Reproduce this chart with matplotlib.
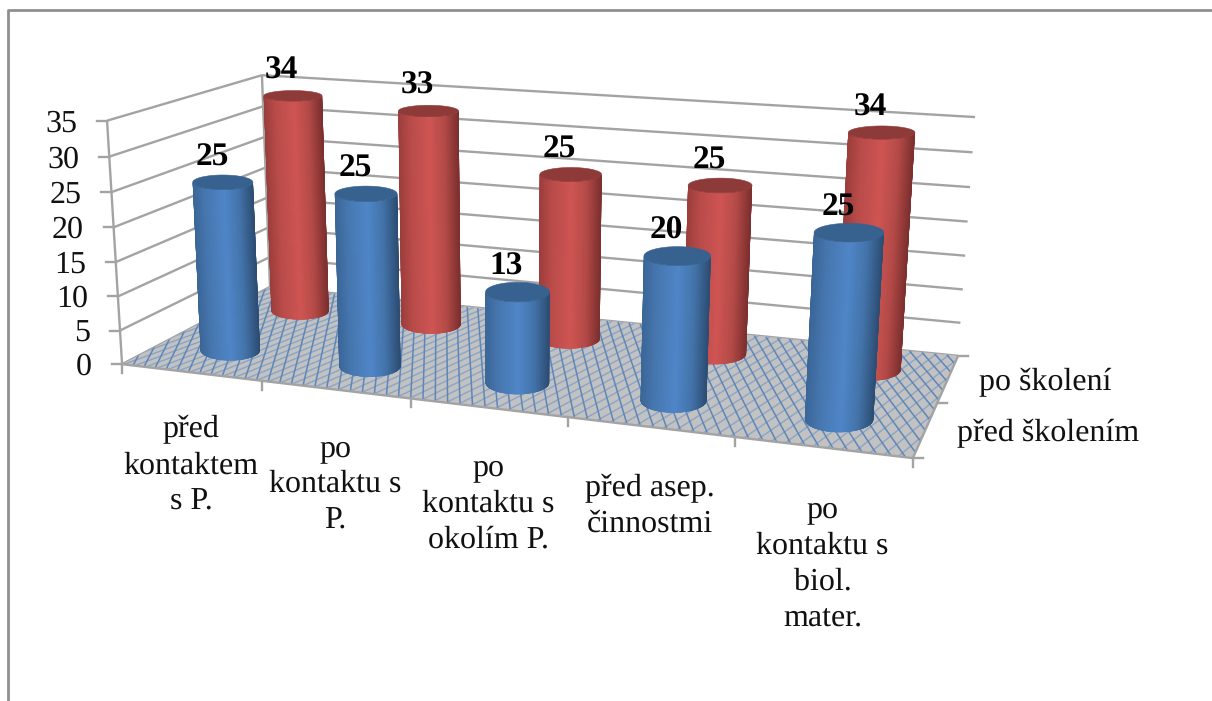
import numpy as np
import matplotlib
matplotlib.use("Agg")
import matplotlib.pyplot as plt
from matplotlib.colors import to_rgb
from matplotlib.collections import LineCollection, PolyCollection
from matplotlib.patches import Polygon

# Data
categories = ["před\nkontaktem\ns P.", "po\nkontaktu s\nP.", "po\nkontaktu s\nokolím P.",
              "před asep.\nčinnostmi", "po\nkontaktu s\nbiol.\nmater."]
series_names = ["před školením", "po školení"]
before = [25, 25, 13, 20, 25]
after = [34, 33, 25, 25, 34]
value_ticks = [0, 5, 10, 15, 20, 25, 30, 35]

plt.rcParams["font.family"] = ["Liberation Serif", "DejaVu Serif"]
plt.rcParams["text.hinting"] = "no_hinting"
GRID = "#a3a3a3"
FS = 23

# Camera: chart corners (category, series, value) -> pixel, solved with DLT
corners = [((0, 0, 0), (122, 364)), ((5, 0, 0), (913, 458)), ((0, 2, 0), (270, 287)),
           ((5, 2, 0), (958, 356)), ((0, 0, 35), (107, 121)), ((0, 2, 35), (262, 75)),
           ((5, 2, 35), (975, 117))]
rows = []
for (u, v, z), (px, py) in corners:
    rows.append([u, v, z, 1, 0, 0, 0, 0, -px * u, -px * v, -px * z, -px])
    rows.append([0, 0, 0, 0, u, v, z, 1, -py * u, -py * v, -py * z, -py])
CAM = np.linalg.svd(np.array(rows, float))[2][-1].reshape(3, 4)


def project(u, v, z):
    """Project chart coordinates to pixels."""
    u, v, z = np.broadcast_arrays(np.asarray(u, float), np.asarray(v, float), np.asarray(z, float))
    p = CAM @ np.stack([u.ravel(), v.ravel(), z.ravel(), np.ones(u.size)])
    return (p[:2] / p[2]).T


def seg(ax, a, b, lw=1.7, color=GRID, zorder=2):
    pts = project(*np.array([a, b]).T)
    ax.plot(pts[:, 0], pts[:, 1], color=color, lw=lw, zorder=zorder, solid_capstyle="butt")


def ring(cu, cv, z, theta):
    """Level ellipse of a cylinder at height z, sized from the local scale."""
    left, right = project([cu - 0.5, cu + 0.5], [cv, cv], [z, z])
    front, back = project([cu, cu], [cv - 0.5, cv + 0.5], [z, z])
    mid = project(cu, cv, z)[0]
    a = 0.13 * (right[0] - left[0]) + 12
    b = 0.24 * (front[1] - back[1])
    return np.column_stack([mid[0] + a * np.cos(theta), mid[1] + b * np.sin(theta)])


def cylinder(ax, i, s, value, stops, top_color, zorder):
    cu, cv = i + 0.5, s + 0.5
    # front half only, left to right
    theta = np.linspace(np.pi, 0, 91)
    low = ring(cu, cv, 0, theta)
    up = ring(cu, cv, value, theta)
    mids = theta[:-1] + np.diff(theta) / 2
    polys, cols = [], []
    rgb = np.array([to_rgb(c) for c in stops])
    for k in range(len(mids)):
        t = np.cos(mids[k])
        polys.append([low[k], low[k + 1], up[k + 1], up[k]])
        cols.append([np.interp(t, [-1, -0.6, 0.05, 0.55, 1], rgb[:, c]) for c in range(3)])
    body = Polygon(np.vstack([low, up[::-1]]), closed=True, fc=cols[45], ec="none", zorder=zorder)
    ax.add_patch(body)
    strips = PolyCollection(polys, facecolors=cols, edgecolors=cols, linewidths=0.8, zorder=zorder)
    ax.add_collection(strips)
    strips.set_clip_path(body)
    top = ring(cu, cv, value, np.linspace(0, 2 * np.pi, 121))
    ax.add_patch(Polygon(top, closed=True, fc=top_color, ec=top_color, lw=0.4, zorder=zorder + 0.1))
    mid = project(cu, cv, value)[0]
    ax.text(mid[0] - 11, mid[1] - 25, str(value), ha="center", va="center", fontsize=FS + 1,
            fontweight="bold", color="black", zorder=20)


fig = plt.figure(figsize=(12.12, 7.01), dpi=100)
ax = fig.add_axes([0, 0, 1, 1])
ax.set_xlim(0, 1212)
ax.set_ylim(701, 0)
ax.axis("off")

# outer frame
ax.plot([8, 8, 1212], [701, 10, 10], color="#8f8f8f", lw=2, zorder=1)

# walls
for val in value_ticks:
    seg(ax, (0, 0, val), (0, 2, val))
    seg(ax, (0, 2, val), (5, 2, val))
    x, y = project(0, 0, val)[0]
    ax.plot([x - 10, x], [y, y], color=GRID, lw=1.7, zorder=2)
    ax.text(x - 30, y + 3, str(val), ha="right", va="center", fontsize=FS, color="#111111", zorder=20)
seg(ax, (0, 0, 0), (0, 0, 35))
seg(ax, (0, 2, 0), (0, 2, 35))

# floor with woven texture
floor_xy = project([0, 5, 5, 0], [0, 0, 2, 2], [0, 0, 0, 0])
floor = Polygon(floor_xy, closed=True, fc="#c2c2c2", ec="none", zorder=3)
ax.add_patch(floor)
vv = np.array([0.0, 2.0])
lines_a = [project(c - vv / 2.4, vv, 0 * vv) for c in np.arange(0, 5.9, 0.08)]
lines_b = [project((vv - c) / 4.8, vv, 0 * vv) for c in np.arange(-24, 2.2, 0.38)]
for lines, col, lw in [(lines_b, "#8aa5c6", 1.0), (lines_a, "#5f86b8", 1.1)]:
    lc = LineCollection(lines, colors=col, linewidths=lw, zorder=3.1)
    ax.add_collection(lc)
    lc.set_clip_path(floor)

# floor edges and ticks
seg(ax, (0, 0, 0), (5, 0, 0), zorder=4)
seg(ax, (5, 0, 0), (5, 2, 0), zorder=4)
for i in range(6):
    x, y = project(i, 0, 0)[0]
    ax.plot([x, x], [y, y + 9], color=GRID, lw=1.7, zorder=4)
for s in range(3):
    x, y = project(5, s, 0)[0]
    ax.plot([x, x + 10], [y, y], color=GRID, lw=1.7, zorder=4)

# cylinders, back row first
blue = ["#3a6596", "#4676ae", "#4f86c8", "#4373a9", "#2d4e74"]
red = ["#9a3d3b", "#b84b49", "#cf5553", "#b34a47", "#7d302f"]
for i, val in enumerate(after):
    cylinder(ax, i, 1, val, red, "#8e3a38", 5 + i * 0.01)
for i, val in enumerate(before):
    cylinder(ax, i, 0, val, blue, "#376290", 7 + i * 0.01)

# category and series labels
for i, name in enumerate(categories):
    x, y = project(i + 0.5, 0, 0)[0]
    ax.text(x, y + 43 + 1.2 * i, name, ha="center", va="top", ma="center", fontsize=FS, linespacing=1.32,
            color="#111111", zorder=20)
for s, name in enumerate(series_names):
    x, y = project(5, s + 0.5, 0)[0]
    ax.text(x + 31, y + 4, name, ha="left", va="center", fontsize=FS, color="#111111", zorder=20)

fig.savefig("out.png", dpi=100)
